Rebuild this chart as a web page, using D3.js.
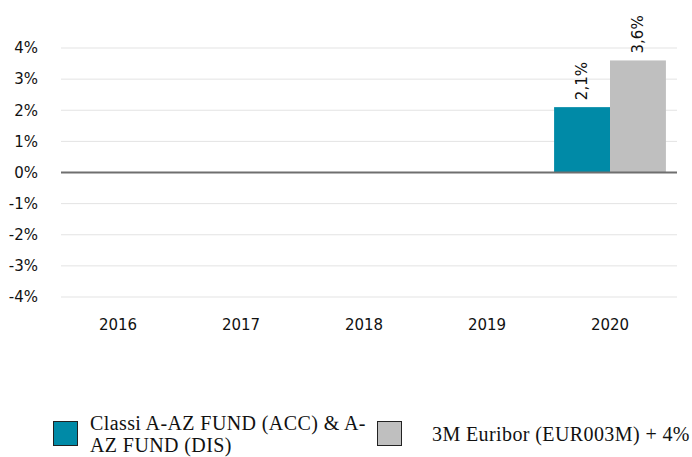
<!DOCTYPE html>
<html>
<head>
<meta charset="utf-8">
<script src="https://cdn.jsdelivr.net/npm/d3@7"></script>
<style>
  body { margin: 0; background: #fff; }
  svg { display: block; }
</style>
</head>
<body>
<svg width="692" height="457"></svg>
<script>
// chart data
var years = ["2016", "2017", "2018", "2019", "2020"];
var fundValues = [null, null, null, null, 2.1];
var benchValues = [null, null, null, null, 3.6];
var yTicks = [-4, -3, -2, -1, 0, 1, 2, 3, 4];
var seriesNames = ["Classi A-AZ FUND (ACC) & A-AZ FUND (DIS)", "3M Euribor (EUR003M) + 4%"];
var seriesColors = ["#008AA7", "#BFBFBF"];

var svg = d3.select("svg");
var gridLeft = 61, gridRight = 677, plotTop = 48, plotBottom = 297;

var x0 = d3.scaleBand().domain(years).range([56.5, 671.5]).padding(0);
var x1 = d3.scaleBand().domain([0, 1]).range([0, x0.bandwidth()]).paddingOuter(0.1).paddingInner(0);
var y = d3.scaleLinear().domain([-4, 4]).range([plotBottom, plotTop]);

// grid lines
svg.append("g").selectAll("line")
    .data(yTicks.filter(function(t){ return t !== 0; }))
    .enter().append("line")
    .attr("x1", gridLeft).attr("x2", gridRight)
    .attr("y1", function(d){ return y(d); })
    .attr("y2", function(d){ return y(d); })
    .attr("stroke", "#e3e3e3")
    .attr("stroke-width", 1);

// y axis labels
var yAxis = d3.axisLeft(y).tickValues(yTicks).tickSize(0).tickPadding(0)
    .tickFormat(function(d){ return d + "%"; });
var gy = svg.append("g").attr("transform", "translate(38,0)").call(yAxis);
gy.select(".domain").remove();
gy.selectAll("text")
    .attr("font-family", "DejaVu Sans")
    .attr("font-size", 15)
    .attr("fill", "#111");

// x axis labels
var xAxis = d3.axisBottom(x0).tickSize(0).tickPadding(0);
var gx = svg.append("g").attr("transform", "translate(0,319)").call(xAxis);
gx.select(".domain").remove();
gx.selectAll("text")
    .attr("font-family", "DejaVu Sans")
    .attr("font-size", 15)
    .attr("fill", "#111");

// bars
var rows = [];
for (var i = 0; i < years.length; i++) {
    rows.push({ year: years[i], s: 0, v: fundValues[i] });
    rows.push({ year: years[i], s: 1, v: benchValues[i] });
}
rows = rows.filter(function(r){ return r.v !== null; });

svg.append("g").selectAll("rect")
    .data(rows)
    .enter().append("rect")
    .attr("x", function(d){ return x0(d.year) + x1(d.s); })
    .attr("width", x1.bandwidth())
    .attr("y", function(d){ return y(Math.max(0, d.v)); })
    .attr("height", function(d){ return Math.abs(y(d.v) - y(0)); })
    .attr("fill", function(d){ return seriesColors[d.s]; });

// zero line
svg.append("line")
    .attr("x1", gridLeft).attr("x2", gridRight)
    .attr("y1", y(0)).attr("y2", y(0))
    .attr("stroke", "#6f6f6f")
    .attr("stroke-width", 2);

// value labels
svg.append("g").selectAll("text")
    .data(rows)
    .enter().append("text")
    .attr("transform", function(d){
        var cx = x0(d.year) + x1(d.s) + x1.bandwidth() / 2;
        return "translate(" + cx + "," + (y(d.v) - 7) + ") rotate(-90)";
    })
    .attr("dy", "0.35em")
    .attr("text-anchor", "start")
    .attr("font-family", "DejaVu Sans")
    .attr("font-size", 15)
    .attr("fill", "#111")
    .text(function(d){ return String(d.v).replace(".", ",") + "%"; });

// legend
var legend = svg.append("g")
    .attr("font-family", "Liberation Serif")
    .attr("font-size", 20)
    .attr("letter-spacing", 0.4)
    .attr("fill", "#111");
legend.append("rect").attr("x", 53.5).attr("y", 421.5).attr("width", 24).attr("height", 24)
    .attr("fill", seriesColors[0]).attr("stroke", "#222");
var t1 = legend.append("text").attr("x", 90).attr("y", 430);
t1.append("tspan").attr("x", 90).text("Classi A-AZ FUND (ACC) & A-");
t1.append("tspan").attr("x", 90).attr("dy", 22).text("AZ FUND (DIS)");

legend.append("rect").attr("x", 377.5).attr("y", 421.5).attr("width", 24).attr("height", 24)
    .attr("fill", seriesColors[1]).attr("stroke", "#222");
legend.append("text").attr("x", 432).attr("y", 441).text(seriesNames[1]);
</script>
</body>
</html>
